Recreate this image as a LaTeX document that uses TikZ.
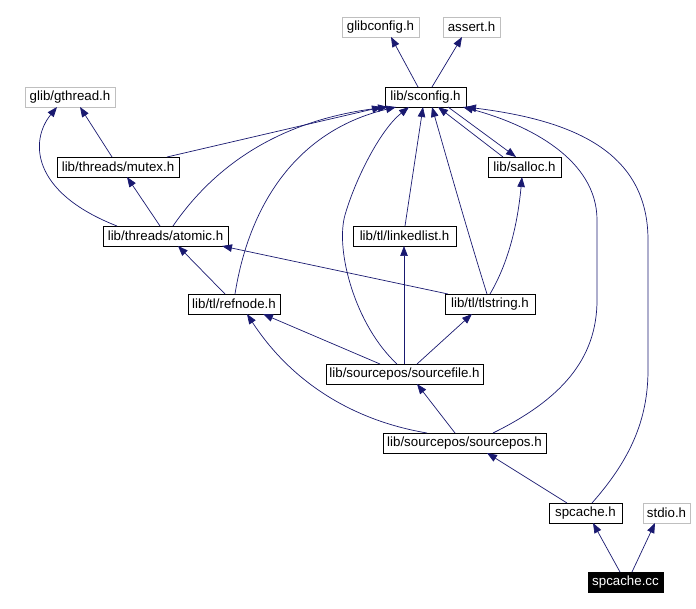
\documentclass[tikz,border=0pt]{standalone}
\usepackage{fontspec}
\setmainfont{Liberation Sans}
\usetikzlibrary{arrows.meta,calc}
\definecolor{midblue}{HTML}{191970}
\definecolor{lgray}{HTML}{BFBFBF}
\begin{document}
\begin{tikzpicture}[x=1pt,y=-1pt,
  every node/.style={font=\fontsize{13.3}{15}\selectfont, inner sep=0pt, outer sep=0pt, minimum height=20pt},
  box/.style={draw=black, line width=0.8pt, fill=white},
  gbox/.style={draw=lgray, line width=0.8pt, fill=white},
  mainbox/.style={draw=black, fill=black, text=white, line width=0.8pt},
  dep/.style={draw=midblue, line width=0.7pt, -{Triangle[length=10pt,width=7.5pt]}}]
\useasboundingbox (0,0) rectangle (696,609);
% nodes
\node[gbox, minimum width=77] (glibconfig) at (380.5,27) {glibconfig.h};
\node[gbox, minimum width=57] (assert) at (471.5,27) {assert.h};
\node[gbox, minimum width=90] (gthread) at (70,97) {glib/gthread.h};
\node[box, minimum width=81] (sconfig) at (425.5,97) {lib/sconfig.h};
\node[box, minimum width=122] (mutex) at (118,167) {lib/threads/mutex.h};
\node[box, minimum width=73] (salloc) at (524.5,167) {lib/salloc.h};
\node[box, minimum width=125] (atomic) at (165.5,236) {lib/threads/atomic.h};
\node[box, minimum width=103] (linkedlist) at (404.5,236) {lib/tl/linkedlist.h};
\node[box, minimum width=92] (refnode) at (234,304) {lib/tl/refnode.h};
\node[box, minimum width=90] (tlstring) at (490,304) {lib/tl/tlstring.h};
\node[box, minimum width=157] (sourcefile) at (404.5,374) {lib/sourcepos/sourcefile.h};
\node[box, minimum width=163] (sourcepos) at (464.5,443) {lib/sourcepos/sourcepos.h};
\node[box, minimum width=73] (spcacheh) at (585.5,513) {spcache.h};
\node[gbox, minimum width=47] (stdio) at (666.5,513) {stdio.h};
\node[mainbox, minimum width=75] (spcachecc) at (625.5,582) {spcache.cc};
% edges
\draw[dep] ($(sconfig.north west)+(33,0)$) -- ($(glibconfig.south west)+(49,0)$);
\draw[dep] ($(sconfig.north west)+(47,0)$) -- ($(assert.south west)+(19,0)$);
\draw[dep] ($(mutex.north west)+(55,0)$) -- ($(gthread.south west)+(55,0)$);
\draw[dep] ($(atomic.north west)+(14,0)$) .. controls (30,192) and (30,140) .. ($(gthread.south west)+(32,0)$);
\draw[dep] ($(mutex.north west)+(110,0)$) -- ($(sconfig.south west)+(-3,0)$);
\draw[dep] ($(atomic.north west)+(57,0)$) -- ($(mutex.south west)+(70,0)$);
\draw[dep] ($(atomic.north west)+(70,0)$) .. controls (215,165) and (280,120) .. ($(sconfig.south west)+(3,0)$);
\draw[dep] ($(refnode.north west)+(47,0)$) .. controls (250,200) and (300,130) .. ($(sconfig.south west)+(11,0)$);
\draw[dep] ($(sourcefile.north west)+(71,0)$) .. controls (355,325) and (335,250) .. (345,215) .. controls (355,180) and (380,130) .. ($(sconfig.south west)+(24,0)$);
\draw[dep] ($(linkedlist.north west)+(52,0)$) -- ($(sconfig.south west)+(38,0)$);
\draw[dep] ($(tlstring.north west)+(42,0)$) .. controls (470,240) and (450,170) .. ($(sconfig.south west)+(47,0)$);
\draw[dep] ($(salloc.north west)+(15,0)$) -- ($(sconfig.south west)+(53,0)$);
\draw[dep] ($(sconfig.south west)+(63,0)$) -- ($(salloc.north west)+(28,0)$);
\draw[dep] ($(sourcepos.north west)+(110,0)$) .. controls (560,400) and (597,360) .. (597,300) -- (597,220) .. controls (597,160) and (530,125) .. ($(sconfig.south east)+(-3,0)$);
\draw[dep] ($(spcacheh.north west)+(43,0)$) .. controls (630,460) and (648,420) .. (648,370) -- (648,240) .. controls (648,150) and (570,120) .. (sconfig.south east);
\draw[dep] ($(refnode.north west)+(37,0)$) -- ($(atomic.south west)+(75,0)$);
\draw[dep] ($(tlstring.north west)+(3,0)$) -- ($(atomic.south west)+(119,0)$);
\draw[dep] ($(tlstring.north west)+(45,0)$) .. controls (510,260) and (518,220) .. ($(salloc.south west)+(34,0)$);
\draw[dep] ($(sourcefile.north west)+(54,0)$) -- ($(refnode.south west)+(75,0)$);
\draw[dep] ($(sourcefile.north west)+(91,0)$) -- ($(tlstring.south west)+(27,0)$);
\draw[dep] ($(sourcefile.north west)+(78,0)$) -- ($(linkedlist.south west)+(51,0)$);
\draw[dep] ($(sourcepos.north west)+(72,0)$) -- ($(sourcefile.south west)+(91,0)$);
\draw[dep] ($(sourcepos.north west)+(44,0)$) .. controls (350,420) and (290,380) .. ($(refnode.south west)+(59,0)$);
\draw[dep] ($(spcacheh.north west)+(18,0)$) -- ($(sourcepos.south west)+(104,0)$);
\draw[dep] ($(spcachecc.north west)+(32,0)$) -- ($(spcacheh.south west)+(44,0)$);
\draw[dep] ($(spcachecc.north west)+(44,0)$) -- ($(stdio.south west)+(12,0)$);
\end{tikzpicture}
\end{document}
